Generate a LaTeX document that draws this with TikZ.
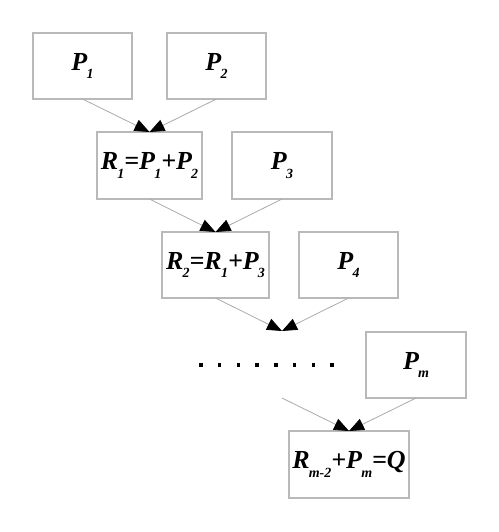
\documentclass[tikz,border=0pt]{standalone}
\usepackage{fontspec}
\setmainfont{Liberation Serif}
\usetikzlibrary{arrows.meta}
\definecolor{boxgray}{RGB}{185,185,185}
\definecolor{linegray}{RGB}{170,170,170}
\newcommand{\sbs}[1]{\kern-0.8pt\raisebox{-8.5pt}{\fontsize{14}{14}\selectfont #1}}
\begin{document}
\begin{tikzpicture}[x=1pt,y=-1pt,
  bx/.style={draw=boxgray,line width=1.1pt,inner sep=0pt,outer sep=0pt,
    font=\fontsize{26}{26}\selectfont\bfseries\itshape},
  conn/.style={draw=linegray,line width=0.8pt,-{Triangle[length=15pt,width=12pt,black]}}]
\useasboundingbox (0,0) rectangle (498,532);
\node[bx,minimum width=99pt,minimum height=66pt] (p1) at (82.5,66) {P\sbs{1}};
\node[bx,minimum width=99pt,minimum height=66pt] (p2) at (216.5,66) {P\sbs{2}};
\node[bx,minimum width=105pt,minimum height=67pt] (r1) at (149.5,165.5) {R\sbs{1}=P\sbs{1}+P\sbs{2}};
\node[bx,minimum width=100pt,minimum height=67pt] (p3) at (282,165.5) {P\sbs{3}};
\node[bx,minimum width=107pt,minimum height=66pt] (r2) at (215.5,265) {R\sbs{2}=R\sbs{1}+P\sbs{3}};
\node[bx,minimum width=99pt,minimum height=66pt] (p4) at (348.5,265) {P\sbs{4}};
\node[bx,minimum width=100pt,minimum height=66pt] (pm) at (416,365) {P\sbs{m}};
\node[bx,minimum width=120pt,minimum height=67pt] (q) at (349,464.5) {R\sbs{m-2}+P\sbs{m}=Q};
\coordinate (c1) at (282,331);
\coordinate (c2) at (282,398);
\draw[conn] (p1.south) -- (r1.north);
\draw[conn] (p2.south) -- (r1.north);
\draw[conn] (r1.south) -- (r2.north);
\draw[conn] (p3.south) -- (r2.north);
\draw[conn] (r2.south) -- (c1);
\draw[conn] (p4.south) -- (c1);
\draw[conn] (c2) -- (q.north);
\draw[conn] (pm.south) -- (q.north);
\foreach \i in {0,...,7}
  \fill (201+\i*18.7-1.7,365-1.7) rectangle ++(3.4,3.4);
\end{tikzpicture}
\end{document}
